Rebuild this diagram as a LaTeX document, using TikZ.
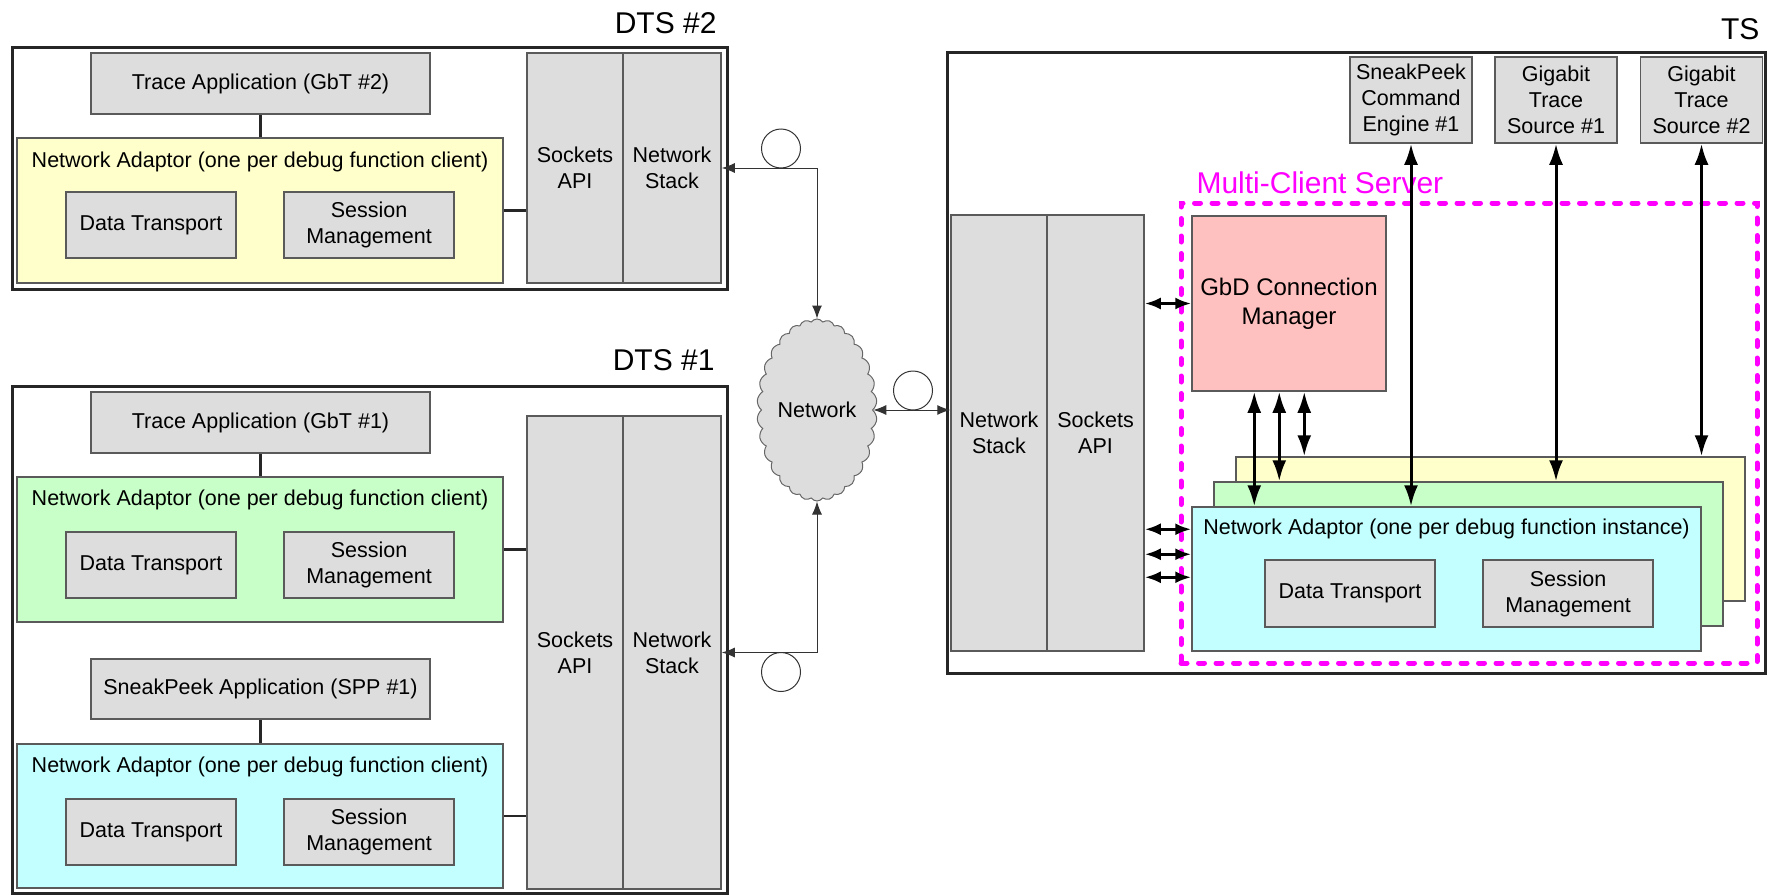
\documentclass[tikz,border=0pt]{standalone}
\usepackage{fontspec}
\setmainfont{Liberation Sans}
\usetikzlibrary{arrows.meta,shapes.symbols,calc}

\definecolor{boxgray}{RGB}{221,221,221}
\definecolor{edgegray}{RGB}{90,90,90}
\definecolor{nayellow}{RGB}{255,255,204}
\definecolor{nagreen}{RGB}{200,255,200}
\definecolor{nacyan}{RGB}{195,255,255}
\definecolor{gbdpink}{RGB}{255,192,192}
\definecolor{mcsmagenta}{RGB}{255,0,255}

\tikzset{
  outerbox/.style={draw=black!85, line width=3pt, inner sep=0pt},
  graybox/.style={draw=edgegray, line width=1.5pt, fill=boxgray, align=center, inner sep=0pt},
  adaptor/.style={draw=edgegray, line width=1.5pt, inner sep=0pt},
  wire/.style={draw=black!85, line width=2.5pt},
  netlink/.style={draw=black!80, line width=1pt,
    {Latex[length=13pt,width=10pt]}-{Latex[length=13pt,width=10pt]}},
  busarrow/.style={draw=black, line width=3pt,
    {Latex[length=21pt,width=14pt]}-{Latex[length=21pt,width=14pt]}},
  busshort/.style={draw=black, line width=3pt,
    {Latex[length=16pt,width=12pt]}-{Latex[length=16pt,width=12pt]}},
  loopmark/.style={circle, draw=black!80, line width=1pt, minimum size=39pt, inner sep=0pt},
  heading/.style={font=\fontsize{30}{36}\selectfont},
}

\begin{document}
\begin{tikzpicture}[x=1pt,y=-1pt,
  every node/.style={font=\fontsize{21.5}{26}\selectfont}]
\useasboundingbox (0,0) rectangle (1768,894);

% ---------------- DTS #2 ----------------
\node[outerbox, minimum width=715, minimum height=242] (dts2) at (369.5,168) {};
\node[heading, anchor=base east] (dts2label) at (720,33) {DTS \#2};
\node[graybox, minimum width=339, minimum height=61] (gbt2) at (260.5,83.5) {Trace Application (GbT \#2)};
\node[adaptor, fill=nayellow, minimum width=486, minimum height=145] (na2) at (260,210.5) {};
\node (na2label) at (260,162) {Network Adaptor (one per debug function client)};
\node[graybox, minimum width=170, minimum height=66] (dt2) at (151,225) {Data Transport};
\node[graybox, minimum width=170, minimum height=66] (sm2) at (369,225) {Session\\Management};
\node[graybox, minimum width=96, minimum height=230] (sock2) at (575,168) {Sockets\\API};
\node[graybox, minimum width=98, minimum height=230] (ns2) at (672,168) {Network\\Stack};

% ---------------- DTS #1 ----------------
\node[outerbox, minimum width=715, minimum height=507] (dts1) at (369.5,639.5) {};
\node[heading, anchor=base east] (dts1label) at (718,370) {DTS \#1};
\node[graybox, minimum width=339, minimum height=61] (gbt1) at (260.5,422.5) {Trace Application (GbT \#1)};
\node[adaptor, fill=nagreen, minimum width=486, minimum height=145] (na1g) at (260,549.5) {};
\node (na1glabel) at (260,500) {Network Adaptor (one per debug function client)};
\node[graybox, minimum width=170, minimum height=66] (dt1g) at (151,565) {Data Transport};
\node[graybox, minimum width=170, minimum height=66] (sm1g) at (369,565) {Session\\Management};
\node[graybox, minimum width=339, minimum height=60] (spp) at (260.5,689) {SneakPeek Application (SPP \#1)};
\node[adaptor, fill=nacyan, minimum width=486, minimum height=144] (na1c) at (260,816) {};
\node (na1clabel) at (260,767) {Network Adaptor (one per debug function client)};
\node[graybox, minimum width=170, minimum height=66] (dt1c) at (151,832) {Data Transport};
\node[graybox, minimum width=170, minimum height=66] (sm1c) at (369,832) {Session\\Management};
\node[graybox, minimum width=96, minimum height=473] (sock1) at (575,652.5) {Sockets\\API};
\node[graybox, minimum width=98, minimum height=473] (ns1) at (672,652.5) {Network\\Stack};

% ---------------- Network ----------------
\node[cloud, cloud puffs=30, cloud puff arc=110, cloud ignores aspect,
      draw=black!60, line width=1pt, fill=boxgray, inner sep=0pt,
      minimum width=120, minimum height=182] (cloud) at (817,410) {Network};
\node[loopmark] (loop2) at (781,148.5) {};
\node[loopmark] (loop1) at (781,672) {};
\node[loopmark] (loop3) at (913,390.5) {};

% ---------------- TS ----------------
\node[outerbox, minimum width=818, minimum height=621] (ts) at (1356,362.5) {};
\node[heading, anchor=base east] (tslabel) at (1763,39) {TS};
\node[graybox, minimum width=122, minimum height=86] (ce1) at (1411,100) {SneakPeek\\Command\\Engine \#1};
\node[graybox, minimum width=122, minimum height=86] (gts1) at (1556,100) {Gigabit\\Trace\\Source \#1};
\node[graybox, minimum width=122, minimum height=86] (gts2) at (1701.5,100) {Gigabit\\Trace\\Source \#2};
\node[graybox, minimum width=96, minimum height=436] (tsns) at (999,433) {Network\\Stack};
\node[graybox, minimum width=97, minimum height=436] (tssock) at (1095.5,433) {Sockets\\API};

\node[draw=mcsmagenta, line width=5pt, dash pattern=on 6pt off 11.5pt, line cap=round,
      minimum width=576, minimum height=460, inner sep=0pt] (mcs) at (1469,433) {};
\node[heading, text=mcsmagenta, anchor=base west] (mcslabel) at (1193,193) {Multi-Client Server};

\node[graybox, fill=gbdpink, minimum width=194, minimum height=175,
      font=\fontsize{24}{29}\selectfont] (gbd) at (1289,303.5) {GbD Connection\\Manager};

\node[adaptor, fill=nayellow, minimum width=509, minimum height=144] (nay) at (1490.5,529) {};
\node[adaptor, fill=nagreen, minimum width=509, minimum height=144] (nag) at (1468.5,554) {};
\node[adaptor, fill=nacyan, minimum width=509, minimum height=144] (nac) at (1446.5,579) {};
\node (naclabel) at (1446.5,529) {Network Adaptor (one per debug function instance)};
\node[graybox, minimum width=170, minimum height=67] (dt3) at (1350,593.5) {Data Transport};
\node[graybox, minimum width=170, minimum height=67] (sm3) at (1568,593.5) {Session\\Management};

% ---------------- client-side links ----------------
\draw[wire] (gbt2.south) -- (gbt2.south |- na2.north);
\draw[wire] (na2.east) -- (na2.east -| sock2.west);
\draw[wire] (gbt1.south) -- (gbt1.south |- na1g.north);
\draw[wire] (na1g.east) -- (na1g.east -| sock1.west);
\draw[wire] (spp.south) -- (spp.south |- na1c.north);
\draw[wire] (na1c.east) -- (na1c.east -| sock1.west);

% ---------------- network links ----------------
\draw[netlink] (ns2.east) -| (cloud.north);
\draw[netlink] (ns1.east) -| (cloud.south);
\draw[netlink] (cloud.east) -- (cloud.east -| tsns.west);

% ---------------- server-side arrows ----------------
\draw[busshort] (tssock.east |- gbd.west) -- (gbd.west);
\foreach \dy in {23,48,71} {
  \coordinate (port) at ($(nac.north west)+(0,\dy)$);
  \draw[busshort] (port -| tssock.east) -- (port);
}
\draw[busarrow] (ce1.south) -- (ce1.south |- nac.north);
\draw[busarrow] (gts1.south) -- (gts1.south |- nag.north);
\draw[busarrow] (gts2.south) -- (gts2.south |- nay.north);
\foreach \dx/\tgt in {63/nac, 88/nag, 113/nay} {
  \coordinate (drop) at ($(gbd.south west)+(\dx,0)$);
  \draw[busarrow] (drop) -- (drop |- \tgt.north);
}
\end{tikzpicture}
\end{document}
